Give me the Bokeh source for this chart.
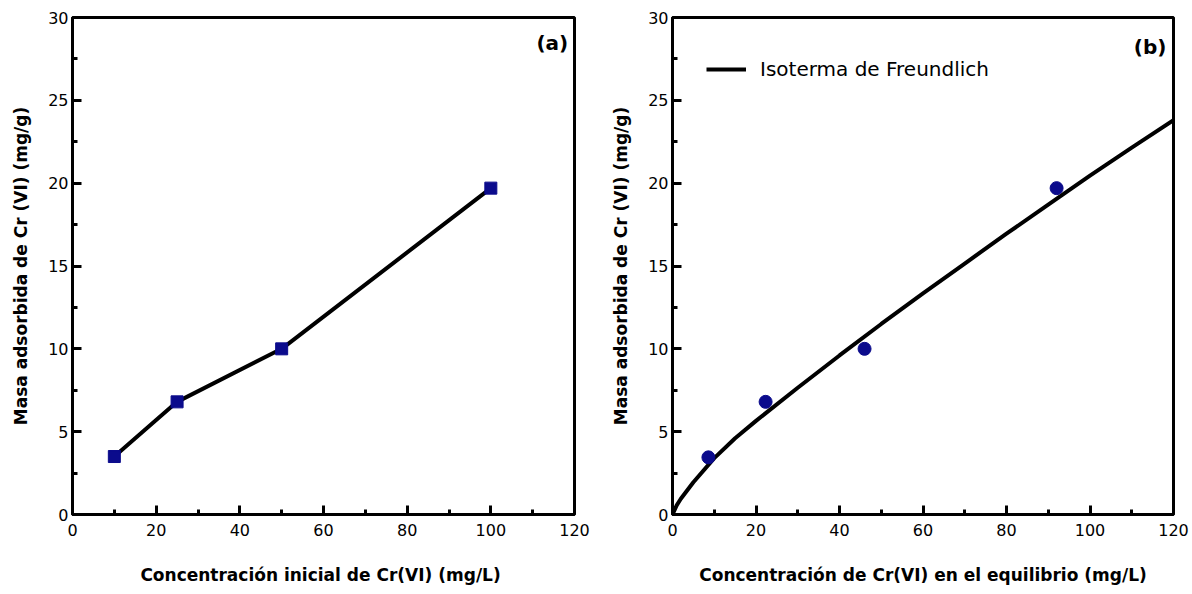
from bokeh.plotting import figure
from bokeh.layouts import row
from bokeh.models import Range1d, FixedTicker, Label, Legend, LegendItem
from bokeh.embed import file_html
from bokeh.resources import INLINE

# ---- data ----
ci_a = [10, 25, 50, 100]                 # initial concentration (mg/L)
q_a = [3.5, 6.8, 10.0, 19.7]             # adsorbed mass (mg/g)

ce_b = [8.6, 22.3, 46.0, 92.0]           # equilibrium concentration (mg/L)
q_b = [3.45, 6.8, 10.0, 19.7]            # adsorbed mass (mg/g)

# Freundlich isotherm curve
fx_b = [0, 1, 2, 5, 10, 15, 20, 30, 40, 50, 60, 70, 80, 90, 100, 110, 120]
fy_b = [0, 0.55, 0.95, 1.95, 3.4, 4.6, 5.65, 7.65, 9.6, 11.5, 13.35, 15.15, 16.95, 18.7, 20.45, 22.15, 23.8]

x_major = [0, 20, 40, 60, 80, 100, 120]
x_minor = [10, 30, 50, 70, 90, 110]
y_major = [0, 5, 10, 15, 20, 25, 30]
y_minor = [2.5, 7.5, 12.5, 17.5, 22.5, 27.5]

TICK_FONT = "DejaVu Sans"
LABEL_FONT = "DejaVu Sans"
MARK = "#0b0b8c"


def style(p, xlabel, ylabel):
    p.x_range = Range1d(0, 120)
    p.y_range = Range1d(0, 30)
    p.xgrid.visible = False
    p.ygrid.visible = False
    p.outline_line_color = "black"
    p.outline_line_width = 3
    p.background_fill_color = "white"
    p.border_fill_color = "white"
    p.xaxis.ticker = FixedTicker(ticks=x_major, minor_ticks=x_minor)
    p.yaxis.ticker = FixedTicker(ticks=y_major, minor_ticks=y_minor)
    p.xaxis.axis_label = xlabel
    p.yaxis.axis_label = ylabel
    for ax in (p.xaxis[0], p.yaxis[0]):
        ax.axis_line_width = 3
        ax.axis_line_color = "black"
        ax.major_tick_in = 9
        ax.major_tick_out = 0
        ax.minor_tick_in = 5
        ax.minor_tick_out = 0
        ax.major_tick_line_width = 3
        ax.minor_tick_line_width = 3
        ax.major_tick_line_color = "black"
        ax.minor_tick_line_color = "black"
        ax.major_label_text_font = TICK_FONT
        ax.major_label_text_font_size = "16px"
        ax.major_label_text_color = "black"
        ax.axis_label_text_font = LABEL_FONT
        ax.axis_label_text_font_size = "17px"
        ax.axis_label_text_font_style = "bold"
        ax.axis_label_text_color = "black"
    p.xaxis.major_label_standoff = 9
    p.yaxis.major_label_standoff = 4
    p.xaxis.axis_label_standoff = 26
    p.yaxis.axis_label_standoff = 14


# ---- panel (a) ----
pa = figure(width=596, height=594, output_backend="svg", toolbar_location=None,
            min_border_left=72, min_border_right=22, min_border_top=14, min_border_bottom=80)
style(pa, "Concentración inicial de Cr(VI)  (mg/L)", "Masa adsorbida de Cr (VI) (mg/g)")
pa.line(ci_a, q_a, line_color="black", line_width=4)
pa.scatter(ci_a, q_a, marker="square", size=12, fill_color=MARK, line_color=MARK)
pa.add_layout(Label(x=118.5, y=28.45, text="(a)", text_align="right", text_baseline="middle",
                    text_font=LABEL_FONT, text_font_style="bold", text_font_size="20px",
                    text_color="black"))

# ---- panel (b) ----
pb = figure(width=596, height=594, output_backend="svg", toolbar_location=None,
            min_border_left=76, min_border_right=19, min_border_top=17, min_border_bottom=77)
style(pb, "Concentración de Cr(VI) en el equilibrio (mg/L)", "Masa adsorbida de Cr (VI) (mg/g)")
curve = pb.line(fx_b, fy_b, line_color="black", line_width=4)
pb.scatter(ce_b, q_b, marker="circle", size=13, fill_color=MARK, line_color=MARK)
pb.add_layout(Label(x=118.3, y=28.2, text="(b)", text_align="right", text_baseline="middle",
                    text_font=LABEL_FONT, text_font_style="bold", text_font_size="20px",
                    text_color="black"))

leg = Legend(items=[LegendItem(label="Isoterma de Freundlich", renderers=[curve])],
             location=(24, 423), padding=10, margin=0, glyph_width=40, glyph_height=20,
             label_standoff=14, label_text_font=TICK_FONT, label_text_font_size="20px",
             label_text_color="black", border_line_alpha=0, background_fill_alpha=0)
pb.add_layout(leg)

layout = row(pa, pb)
open("out.html", "w").write(file_html(layout, INLINE))
